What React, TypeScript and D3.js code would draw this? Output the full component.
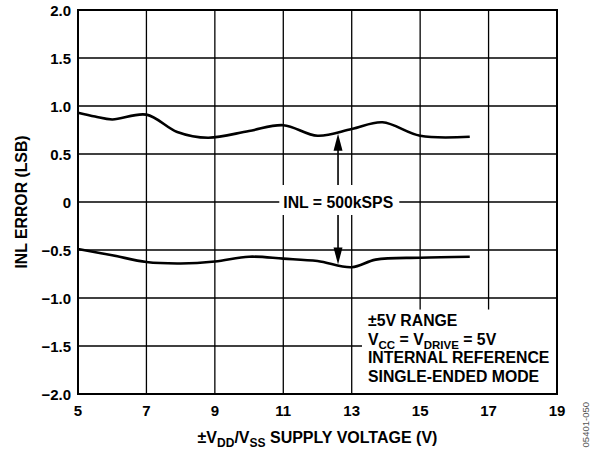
import { useEffect, useRef } from 'react'
import * as d3 from 'd3'

const xTicks = [5, 7, 9, 11, 13, 15, 17, 19]
const yTicks = [-2, -1.5, -1, -0.5, 0, 0.5, 1, 1.5, 2]

// supply voltage (V) vs INL error (LSB)
const upperX = [5, 5.5, 6, 7, 7.9, 8.8, 10, 11, 12, 13, 13.9, 15, 16.45]
const upperY = [0.93, 0.89, 0.86, 0.91, 0.73, 0.67, 0.74, 0.8, 0.69, 0.76, 0.83, 0.69, 0.68]
const lowerX = [5, 6, 7, 8, 9, 10, 11, 12, 13, 13.7, 15, 16.45]
const lowerY = [-0.49, -0.555, -0.625, -0.64, -0.62, -0.57, -0.59, -0.615, -0.68, -0.6, -0.58, -0.57]

const arrowX = 12.6
const arrowTop = 0.71
const arrowBottom = -0.65

const legendLines = ['±5V RANGE', 'VCC = VDRIVE = 5V', 'INTERNAL REFERENCE', 'SINGLE-ENDED MODE']

const FONT = 'Liberation Sans, Arial, Helvetica, sans-serif'

export default function App() {
  const svgRef = useRef<SVGSVGElement>(null)

  useEffect(() => {
    if (!svgRef.current) return
    const width = 592
    const height = 454
    const margin = { top: 10, right: 35, bottom: 60, left: 78 }
    const W = width - margin.left - margin.right
    const H = height - margin.top - margin.bottom

    const svg = d3.select(svgRef.current)
    svg.selectAll('*').remove()

    const x = d3.scaleLinear().domain([5, 19]).range([0, W])
    const y = d3.scaleLinear().domain([-2, 2]).range([H, 0])

    const g = svg.append('g').attr('transform', `translate(${margin.left},${margin.top})`)

    // Grid
    g.append('g').selectAll('line').data(yTicks).join('line')
      .attr('x1', 0).attr('x2', W).attr('y1', d => y(d)).attr('y2', d => y(d))
      .attr('stroke', '#000').attr('stroke-width', 1.3)
    g.append('g').selectAll('line').data(xTicks).join('line')
      .attr('y1', 0).attr('y2', H).attr('x1', d => x(d)).attr('x2', d => x(d))
      .attr('stroke', '#000').attr('stroke-width', 1.3)

    // Curves
    const line = d3.line<[number, number]>().x(d => x(d[0])).y(d => y(d[1])).curve(d3.curveCatmullRom.alpha(0.5))
    const upper = upperX.map((v, i) => [v, upperY[i]] as [number, number])
    const lower = lowerX.map((v, i) => [v, lowerY[i]] as [number, number])
    g.append('path').datum(upper).attr('d', line)
      .attr('fill', 'none').attr('stroke', '#000').attr('stroke-width', 2.6)
    g.append('path').datum(lower).attr('d', line)
      .attr('fill', 'none').attr('stroke', '#000').attr('stroke-width', 2.6)

    // Double arrow
    const ax = x(arrowX)
    const yt = y(arrowTop)
    const yb = y(arrowBottom)
    g.append('line').attr('x1', ax).attr('x2', ax).attr('y1', yt + 10).attr('y2', yb - 10)
      .attr('stroke', '#000').attr('stroke-width', 1.6)
    g.append('path').attr('d', `M${ax},${yt} L${ax - 4.5},${yt + 17} L${ax + 4.5},${yt + 17} Z`).attr('fill', '#000')
    g.append('path').attr('d', `M${ax},${yb} L${ax - 4.5},${yb - 17} L${ax + 4.5},${yb - 17} Z`).attr('fill', '#000')

    // Arrow label
    g.append('rect').attr('x', x(11) - 4).attr('y', y(0) - 17).attr('width', 120).attr('height', 30).attr('fill', '#fff')
    g.append('text').attr('x', x(11)).attr('y', y(0) + 5.5)
      .attr('font-family', FONT).attr('font-weight', 'bold').attr('font-size', 15.8)
      .text('INL = 500kSPS')

    // Legend box
    const lx = x(13.3)
    const ly = y(-1.12)
    g.append('rect').attr('x', lx).attr('y', ly).attr('width', W - lx).attr('height', H - ly).attr('fill', '#fff')
    const leg = g.append('g').attr('font-family', FONT).attr('font-weight', 'bold').attr('font-size', 15.8)
    const baselines = [16.5, 35, 53.5, 72]
    legendLines.forEach((t, i) => {
      const txt = leg.append('text').attr('x', lx + 6).attr('y', ly + baselines[i])
      if (i === 1) {
        txt.append('tspan').text('V')
        txt.append('tspan').attr('font-size', 11.5).attr('dy', 4).text('CC')
        txt.append('tspan').attr('dy', -4).text(' = V')
        txt.append('tspan').attr('font-size', 11.5).attr('dy', 4).text('DRIVE')
        txt.append('tspan').attr('dy', -4).text(' = 5V')
      } else {
        txt.text(t)
      }
    })

    // Frame
    g.append('rect').attr('x', 0).attr('y', 0).attr('width', W).attr('height', H)
      .attr('fill', 'none').attr('stroke', '#000').attr('stroke-width', 2)

    // Tick labels
    g.append('g').selectAll('text').data(yTicks).join('text')
      .attr('x', -7).attr('y', d => y(d) + 5.5).attr('text-anchor', 'end')
      .attr('font-family', FONT).attr('font-weight', 'bold').attr('font-size', 15)
      .text(d => d === 0 ? '0' : d3.format('.1f')(d).replace('-', '–'))
    g.append('g').selectAll('text').data(xTicks).join('text')
      .attr('x', d => x(d)).attr('y', H + 22).attr('text-anchor', 'middle')
      .attr('font-family', FONT).attr('font-weight', 'bold').attr('font-size', 15)
      .text(d => String(d))

    // Axis titles
    svg.append('text').attr('transform', `translate(27,${margin.top + H / 2}) rotate(-90)`)
      .attr('text-anchor', 'middle')
      .attr('font-family', FONT).attr('font-weight', 'bold').attr('font-size', 15.8)
      .text('INL ERROR (LSB)')
    const xt = svg.append('text').attr('x', margin.left + W / 2).attr('y', 443).attr('text-anchor', 'middle')
      .attr('font-family', FONT).attr('font-weight', 'bold').attr('font-size', 16)
    xt.append('tspan').text('±V')
    xt.append('tspan').attr('font-size', 12).attr('dy', 4).text('DD')
    xt.append('tspan').attr('dy', -4).text('/V')
    xt.append('tspan').attr('font-size', 12).attr('dy', 4).text('SS')
    xt.append('tspan').attr('dy', -4).text(' SUPPLY VOLTAGE (V)')

    // Figure id
    svg.append('text').attr('transform', 'translate(589,402) rotate(-90)')
      .attr('text-anchor', 'end')
      .attr('font-family', FONT).attr('font-size', 9.5).attr('fill', '#555')
      .text('05401-050')
  }, [])

  return (
    <svg ref={svgRef} width={592} height={454}
      style={{ position: 'absolute', left: 0, top: 0, background: '#fff' }} />
  )
}
